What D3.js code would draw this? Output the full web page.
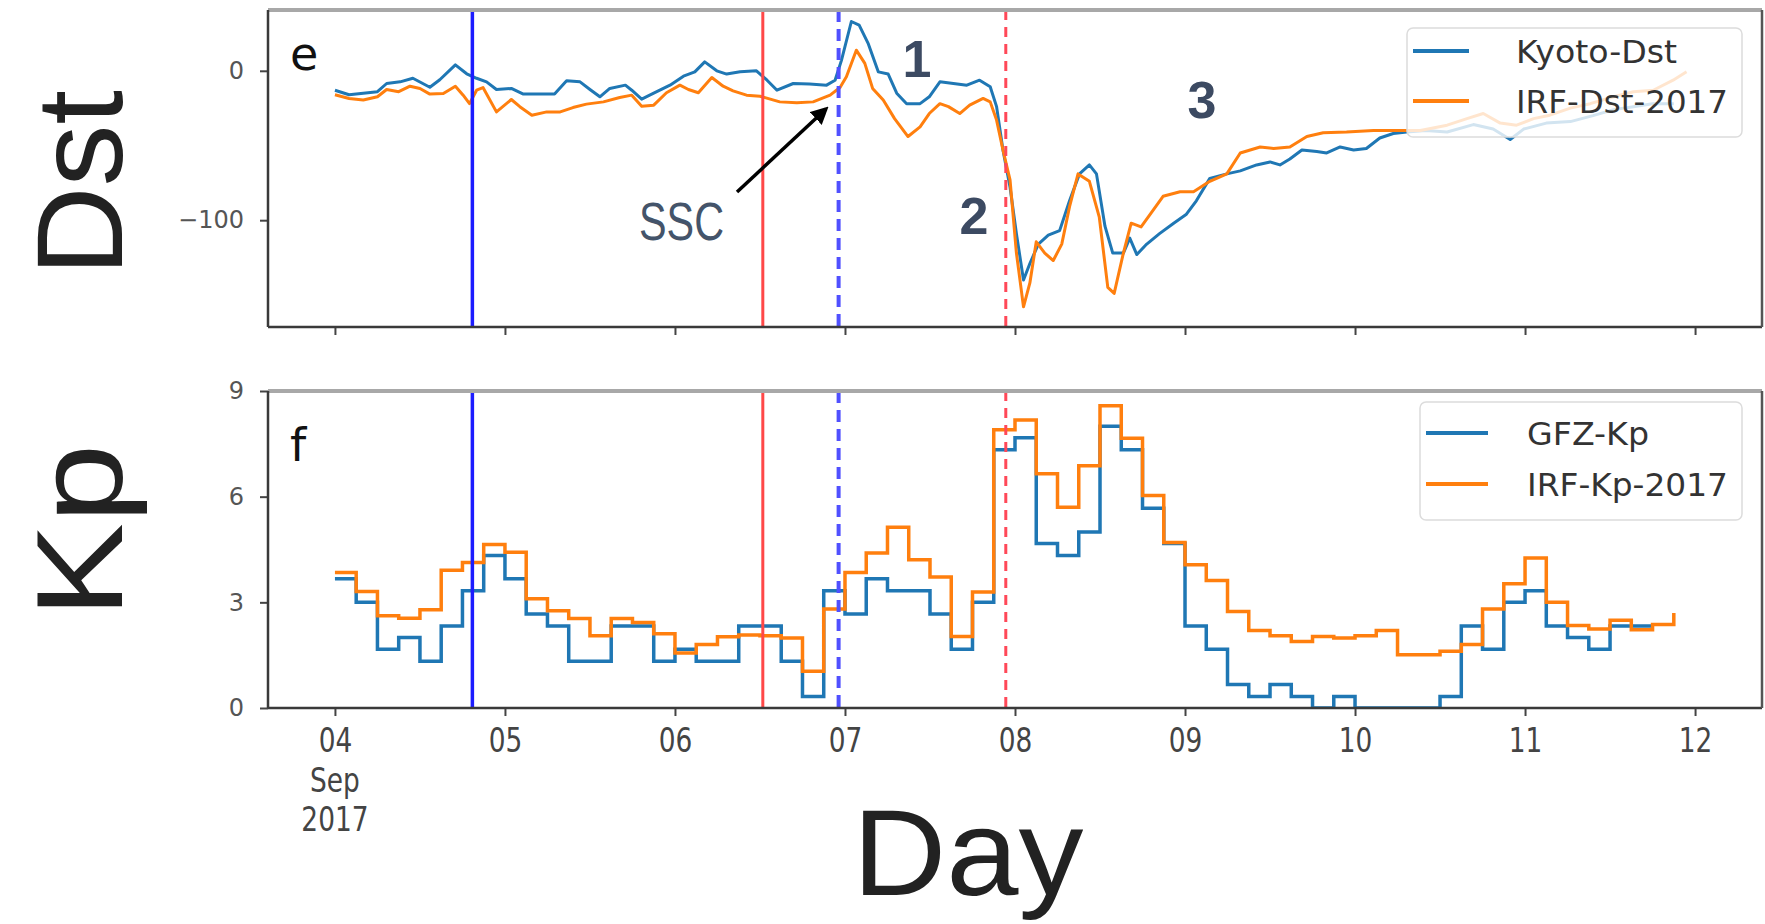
<!DOCTYPE html>
<html>
<head>
<meta charset="utf-8">
<script src="https://d3js.org/d3.v7.min.js"></script>
<style>
	body{ margin:0; background:white; }
</style>
</head>
<body>
<svg id="chart" width="1765" height="924"></svg>
<script>

// Dst (nT), sampled in hours after 2017-09-04 00:00 UT.
const kyotoHours = [0,2,4,6,7.3,9.2,11,13.4,14.8,17,18.6,20,21.4,22.8,24.9,26.6,29,31,32.7,34.6,36,37.4,38.8,41,41.9,43.3,45,47.3,49.2,50.8,52.2,53.9,55.3,57.2,59.5,61,62.4,64.7,67,69.4,70.6,71.5,72.9,74,75.3,76.7,78.1,79.3,80.7,82.6,83.9,85.4,87.3,89.2,91,92.5,93.4,94.3,95.3,96.2,97.2,98.1,99.3,100.7,102.3,103.7,105.1,106.5,107.5,108.7,109.8,111.3,112.2,113.2,114.6,116.4,118.4,120.2,121.6,123.5,125.9,127.8,130.1,132,133.4,134.8,136.5,138.6,140,141.9,143.8,145.6,147.5,149.4,151.3,154,157,160.7,163.5,165.9,167.8,171,174.4,177.6,180.5,183.3,186,189];
const kyotoDst = [-13,-16,-15,-14,-8.5,-7.4,-5,-11,-6,4,-2,-5,-7.4,-12.5,-11.8,-15.6,-15.6,-15.6,-6.7,-7.4,-12.5,-17.4,-11.8,-9.6,-13,-19,-15,-9.6,-3.6,-0.7,6,0,-2.2,-0.7,0,-6.3,-13,-8.5,-8.9,-9.6,-6.3,7,33,30.6,18,-0.7,-2.2,-15,-22,-22,-17.4,-7.4,-8.5,-9.6,-6.3,-10.7,-24,-53,-78,-109,-140,-129,-116,-110,-107,-87,-69,-63,-69,-104,-122,-122,-112,-123,-116,-109,-102,-96,-87,-72,-69,-67,-63,-61,-63,-59,-53,-54,-55,-51,-53,-52,-45,-42,-41,-40,-41,-36,-39,-46,-39,-35,-34,-30,-26,-24,-22,-22];

const irfDstHours = [0,2,4,6,7.3,9,10.6,12,13.4,15.3,17,18.1,19,20,20.9,22.8,24.9,26.1,27.8,29.9,31.8,33.6,35.5,37.9,40.2,41.9,43.3,45,46.8,48.7,49.9,51.3,53.2,54.8,56.2,58.1,60,62.8,65.2,67.5,69.9,71.3,72.2,73.6,74.8,75.9,77.4,79,80.9,82.6,83.9,85.4,86.6,88.2,89.6,91.5,92.5,93.4,94.3,95.3,96.2,97.2,98.1,99,100.2,101.4,102.6,103.7,104.9,106.5,107.9,109.1,110,111.3,112.4,113.8,115.1,116.9,119.3,121.2,123.5,125.9,127.8,130.6,132.5,134.8,137.2,139.5,142.8,146.6,149.9,153.2,157,159.8,162.1,164.5,166.8,169.2,171.5,174.4,177.2,180.5,183.3,186.1,188.9,190.8];
const irfDst = [-16,-18.5,-19.6,-17.4,-12.5,-14,-10.3,-11.8,-15.6,-15.2,-10.3,-16.3,-22,-13,-11.2,-27.5,-19.2,-24,-29.7,-27.5,-27.5,-24.6,-22.3,-20.8,-17.9,-16.3,-23.7,-23,-14.7,-9.6,-12.5,-14.7,-4.5,-10.3,-13.4,-16.3,-17,-20.8,-21.4,-20.8,-16.3,-11.2,-4,13.8,5,-11.8,-19.6,-32,-44,-37.5,-28.6,-22,-24,-28.6,-23,-18.5,-20.8,-33,-53,-73,-122,-158,-142,-114.5,-122,-127,-116,-91,-69,-74,-98,-145,-149,-122,-102,-104.5,-96,-84,-81,-81,-74,-69,-55,-51,-52,-51,-44,-41.5,-41,-40,-40,-40,-36.4,-32,-28.6,-35,-36.4,-32,-29.7,-25,-22,-17.4,-14,-13,-6.3,-0.7];

// Kp, one value per 3 hour interval starting 2017-09-04 00:00 UT.
const gfzKp = [3.67,3.0,1.67,2.0,1.33,2.33,3.33,4.33, 3.67,2.67,2.33,1.33,1.33,2.33,2.33,1.33, 1.67,1.33,1.33,2.33,2.33,1.33,0.33,3.33, 2.67,3.67,3.33,3.33,2.67,1.67,3.0,7.33, 7.67,4.67,4.33,5.0,8.0,7.33,5.67,4.67, 2.33,1.67,0.67,0.33,0.67,0.33,0,0.33, 0,0,0,0,0.33,2.33,1.67,3.0, 3.33,2.33,2.0,1.67,2.33,2.33,2.33];
const irfKp = [3.85,3.31,2.62,2.55,2.79,3.91,4.13,4.64, 4.42,3.10,2.76,2.54,2.05,2.54,2.43,2.11, 1.56,1.80,2.02,2.07,2.05,1.99,1.04,2.81, 3.85,4.40,5.13,4.21,3.72,2.03,3.29,7.90, 8.18,6.65,5.70,6.88,8.58,7.66,6.03,4.70, 4.07,3.62,2.74,2.20,2.05,1.89,2.03,1.99, 2.05,2.20,1.51,1.51,1.61,1.80,2.81,3.53, 4.26,3.0,2.34,2.24,2.49,2.22,2.37,2.70];

// Event markers (hours after start): solid blue, solid red, dashed blue (SSC), dashed red.
const markerHours = [19.4, 60.4, 71.1, 94.7];

// Axis ticks and labels.
const dstTicks = [-100, 0];
const kpTicks = [0, 3, 6, 9];
const dateLabel = ["Sep", "2017"];
const phaseLabels = ["1", "2", "3"];



const t0 = Date.UTC(2017, 8, 4);
function hourDate(h){
	return new Date(t0 + h*3600e3);
} // hourDate


let svg = d3.select("#chart");


// Panel frames.
let frame = {left: 268, right: 1762};
let dstFrame = {top: 10, bottom: 327};
let kpFrame = {top: 391, bottom: 708};


let x = d3.scaleUtc()
  .domain([hourDate(-9.45), hourDate(201.45)])
  .range([frame.left, frame.right]);

let yDst = d3.scaleLinear()
  .domain([-171.5, 40.7])
  .range([dstFrame.bottom, dstFrame.top]);

let yKp = d3.scaleLinear()
  .domain([0, 9])
  .range([kpFrame.bottom, kpFrame.top]);


const blue = "#1f77b4";
const orange = "#ff7f0e";


// Clip paths so nothing leaks out of the panels.
let defs = svg.append("defs");
[["clipDst", dstFrame], ["clipKp", kpFrame]].forEach(c=>{
	defs.append("clipPath").attr("id", c[0])
	  .append("rect")
		.attr("x", frame.left)
		.attr("y", c[1].top)
		.attr("width", frame.right-frame.left)
		.attr("height", c[1].bottom-c[1].top);
}); // forEach

defs.append("marker")
	.attr("id", "arrowhead")
	.attr("viewBox", "0 0 10 10")
	.attr("refX", 8)
	.attr("refY", 5)
	.attr("markerWidth", 5)
	.attr("markerHeight", 5)
	.attr("orient", "auto")
  .append("path")
	.attr("d", "M0,0 L10,5 L0,10 z")
	.attr("fill", "black");



// Dst lines.
let dstLine = d3.line()
  .x(d=>x(hourDate(d[0])))
  .y(d=>yDst(d[1]));

let gDst = svg.append("g").attr("clip-path", "url(#clipDst)");

gDst.append("path")
	.attr("d", dstLine(kyotoHours.map((h,i)=>[h, kyotoDst[i]])))
	.attr("fill", "none")
	.attr("stroke", blue)
	.attr("stroke-width", 3)
	.attr("stroke-linejoin", "round");

gDst.append("path")
	.attr("d", dstLine(irfDstHours.map((h,i)=>[h, irfDst[i]])))
	.attr("fill", "none")
	.attr("stroke", orange)
	.attr("stroke-width", 3)
	.attr("stroke-linejoin", "round");



// Kp step lines.
let kpLine = d3.line()
  .curve(d3.curveStepAfter)
  .x(d=>x(hourDate(d[0])))
  .y(d=>yKp(d[1]));

let gKp = svg.append("g").attr("clip-path", "url(#clipKp)");

gKp.append("path")
	.attr("d", kpLine(gfzKp.map((v,i)=>[3*i, v])))
	.attr("fill", "none")
	.attr("stroke", blue)
	.attr("stroke-width", 3.5);

gKp.append("path")
	.attr("d", kpLine(irfKp.map((v,i)=>[3*i, v])))
	.attr("fill", "none")
	.attr("stroke", orange)
	.attr("stroke-width", 3.5);



// Vertical event markers in both panels.
let markerStyle = [
	{color: "#1c1cff", width: 3.5, dash: null},
	{color: "#ff4848", width: 3, dash: null},
	{color: "#5050ff", width: 4, dash: "12,7"},
	{color: "#ff4858", width: 3, dash: "10,7"}
];
[dstFrame, kpFrame].forEach(f=>{
	markerHours.forEach((h,i)=>{
		svg.append("line")
			.attr("x1", x(hourDate(h)))
			.attr("x2", x(hourDate(h)))
			.attr("y1", f.top)
			.attr("y2", f.bottom)
			.attr("stroke", markerStyle[i].color)
			.attr("stroke-width", markerStyle[i].width)
			.attr("stroke-dasharray", markerStyle[i].dash);
	}); // forEach
}); // forEach



// Axes.
function styleaxis(g){
	g.select(".domain").remove();
	g.selectAll(".tick line").attr("stroke", "#444").attr("stroke-width", 2);
	g.selectAll(".tick text")
	  .attr("fill", "#555")
	  .style("font-family", "DejaVu Sans")
	  .style("font-size", "24px");
} // styleaxis

svg.append("g")
	.attr("transform", `translate(${frame.left},0)`)
	.call(d3.axisLeft(yDst).tickValues(dstTicks).tickSize(8).tickPadding(16).tickFormat(d3.format("d")))
	.call(styleaxis);

svg.append("g")
	.attr("transform", `translate(${frame.left},0)`)
	.call(d3.axisLeft(yKp).tickValues(kpTicks).tickSize(8).tickPadding(16).tickFormat(d3.format("d")))
	.call(styleaxis);

svg.append("g")
	.attr("transform", `translate(0,${dstFrame.bottom})`)
	.call(d3.axisBottom(x).ticks(d3.utcDay.every(1)).tickSize(8).tickFormat(""))
	.call(styleaxis);

let xaxis = svg.append("g")
	.attr("transform", `translate(0,${kpFrame.bottom})`)
	.call(d3.axisBottom(x).ticks(d3.utcDay.every(1)).tickSize(8).tickPadding(13).tickFormat(d3.utcFormat("%d")))
	.call(styleaxis);

xaxis.selectAll(".tick text")
	.style("font-size", "33px")
	.attr("fill", "#444")
	.attr("transform", "scale(0.8,1)");

// Month and year below the first day.
dateLabel.forEach((s,i)=>{
	svg.append("text")
		.attr("transform", `translate(${x(hourDate(0))},${792 + 39*i}) scale(0.8,1)`)
		.attr("text-anchor", "middle")
		.attr("fill", "#444")
		.style("font-family", "DejaVu Sans")
		.style("font-size", "33px")
		.text(s);
}); // forEach



// Panel spines.
[dstFrame, kpFrame].forEach(f=>{
	svg.append("line")
		.attr("x1", frame.left).attr("x2", frame.right)
		.attr("y1", f.top).attr("y2", f.top)
		.attr("stroke", "#a8a8a8").attr("stroke-width", 4);
	svg.append("line")
		.attr("x1", frame.left).attr("x2", frame.right)
		.attr("y1", f.bottom).attr("y2", f.bottom)
		.attr("stroke", "#3a3a3a").attr("stroke-width", 2.5);
	svg.append("line")
		.attr("x1", frame.left).attr("x2", frame.left)
		.attr("y1", f.top).attr("y2", f.bottom)
		.attr("stroke", "#3a3a3a").attr("stroke-width", 2.5);
	svg.append("line")
		.attr("x1", frame.right).attr("x2", frame.right)
		.attr("y1", f.top).attr("y2", f.bottom)
		.attr("stroke", "#555").attr("stroke-width", 2.5);
}); // forEach



// Legends.
function legend(box, entries){
	svg.append("rect")
		.attr("x", box.x).attr("y", box.y)
		.attr("width", box.w).attr("height", box.h)
		.attr("rx", 6)
		.attr("fill", "white").attr("fill-opacity", 0.8)
		.attr("stroke", "#dcdcdc").attr("stroke-width", 1.5);
	entries.forEach((e,i)=>{
		let y = box.y + box.first + i*box.gap;
		svg.append("line")
			.attr("x1", box.x+6).attr("x2", box.x+6+box.line)
			.attr("y1", y).attr("y2", y)
			.attr("stroke", e.color).attr("stroke-width", 4);
		svg.append("text")
			.attr("x", box.textx).attr("y", y+12)
			.attr("fill", "#333")
			.attr("textLength", e.len)
			.attr("lengthAdjust", "spacingAndGlyphs")
			.style("font-family", "DejaVu Sans")
			.style("font-size", "32px")
			.text(e.label);
	}); // forEach
} // legend

legend({x: 1407, y: 28, w: 335, h: 109, first: 23, gap: 50, line: 56, textx: 1516},
  [{label: "Kyoto-Dst", color: blue, len: 161}, {label: "IRF-Dst-2017", color: orange, len: 212}]);
legend({x: 1420, y: 402, w: 322, h: 118, first: 31, gap: 51, line: 62, textx: 1527},
  [{label: "GFZ-Kp", color: blue, len: 122}, {label: "IRF-Kp-2017", color: orange, len: 201}]);



// Panel letters.
[["e", 70], ["f", 461]].forEach(p=>{
	svg.append("text")
		.attr("x", 290).attr("y", p[1])
		.attr("fill", "#111")
		.style("font-family", "DejaVu Sans")
		.style("font-size", "46px")
		.text(p[0]);
}); // forEach


// Phase numbers in the Dst panel.
[[917, 77], [974, 234], [1202, 118]].forEach((p,i)=>{
	svg.append("text")
		.attr("x", p[0]).attr("y", p[1])
		.attr("text-anchor", "middle")
		.attr("fill", "#3c4a62")
		.style("font-family", "Liberation Sans")
		.style("font-weight", "bold")
		.style("font-size", "52px")
		.text(phaseLabels[i]);
}); // forEach


// SSC annotation with arrow.
svg.append("text")
	.attr("x", 639).attr("y", 240)
	.attr("fill", "#44546a")
	.attr("textLength", 85)
	.attr("lengthAdjust", "spacingAndGlyphs")
	.style("font-family", "Liberation Sans")
	.style("font-size", "53px")
	.text("SSC");

svg.append("line")
	.attr("x1", 737).attr("y1", 192)
	.attr("x2", 826).attr("y2", 109)
	.attr("stroke", "black")
	.attr("stroke-width", 3.5)
	.attr("marker-end", "url(#arrowhead)");



// Big axis titles.
[["Dst", 183, 186], ["Kp", 531, 174]].forEach(t=>{
	svg.append("text")
		.attr("transform", `translate(122,${t[1]}) rotate(-90)`)
		.attr("text-anchor", "middle")
		.attr("fill", "#222")
		.attr("textLength", t[2])
		.attr("lengthAdjust", "spacingAndGlyphs")
		.style("font-family", "Liberation Sans")
		.style("font-size", "122px")
		.text(t[0]);
}); // forEach

svg.append("text")
	.attr("x", 968).attr("y", 895)
	.attr("text-anchor", "middle")
	.attr("fill", "#222")
	.attr("textLength", 231)
	.attr("lengthAdjust", "spacingAndGlyphs")
	.style("font-family", "Liberation Sans")
	.style("font-size", "122px")
	.text("Day");

</script>
</body>
</html>
